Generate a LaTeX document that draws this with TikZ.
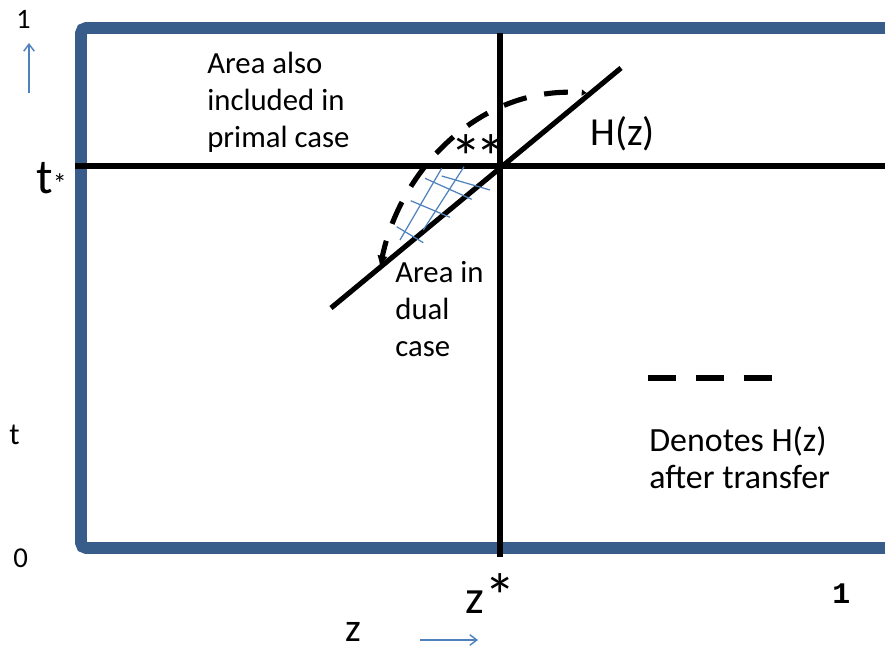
\documentclass[tikz,border=0pt]{standalone}
\usepackage{fontspec}
\setmainfont{Carlito}
\newfontfamily\monofont{Liberation Mono}
\usetikzlibrary{positioning, arrows.meta}

\definecolor{framecol}{RGB}{56,93,138}
\definecolor{hatchcol}{RGB}{79,129,189}

\begin{document}
\begin{tikzpicture}[
    x=0.02cm, y=-0.02cm,
    >=Stealth,
    frame/.style={draw=framecol, line width=6.8pt, rounded corners=3pt},
    axis/.style={draw, line width=2.9pt},
    hz/.style={draw, line width=2.9pt},
    dashcurve/.style={draw, line width=2.9pt, dash pattern=on 13.6pt off 10.2pt, dash phase=4pt},
    legdash/.style={draw, line width=3.4pt, dash pattern=on 15.9pt off 11.3pt},
    hatch/.style={draw=hatchcol, line width=0.7pt},
    bluearrow/.style={draw=hatchcol, line width=0.8pt, -{Straight Barb[length=4pt,width=6pt]}},
    txt/.style={inner sep=0pt, anchor=base west, align=left, font=\fontsize{17.5}{21.3}\selectfont},
]
\useasboundingbox (0,0) rectangle (885,651);

% frame, open on the right
\coordinate (ftr) at (885,28);
\coordinate (ftl) at (81,28);
\coordinate (fbl) at (81,548);
\coordinate (fbr) at (885,548);
\draw[frame] (ftr) -- (ftl) -- (fbl) -- (fbr);

% t* and z* lines
\coordinate (tleft) at (75,166);
\coordinate (tright) at (885,166);
\coordinate (ztop) at (500,33);
\coordinate (zbot) at (500,557);
\draw[axis] (tleft) -- (tright);
\draw[axis] (ztop) -- (zbot);

% H(z)
\coordinate (hlow) at (331,308);
\coordinate (hhigh) at (621,68);
\draw[hz] (hlow) -- (hhigh);

% H(z) after transfer
\coordinate (clow) at (380,268);
\coordinate (chigh) at (587,93);
\draw[dashcurve, {Latex[length=7pt,width=6pt]}-{Latex[length=3pt,width=4pt]}]
    (clow) .. controls (400,170) and (480,85) .. (chigh);

% dual area
\draw[hatch] (441.7,168.3) -- (400,240);
\draw[hatch] (464,166.7) -- (423.3,230);
\draw[hatch] (441.7,176) -- (490,190);
\draw[hatch] (425,178.3) -- (471.7,199.3);
\draw[hatch] (410.7,200.7) -- (450,217.3);
\draw[hatch] (396.7,226.7) -- (423.3,242.7);

% legend
\coordinate (lgleft) at (648,378);
\coordinate (lgright) at (772,378);
\draw[legdash] (lgleft) -- (lgright);

% axis arrows
\coordinate (tarrow0) at (29,93);
\coordinate (tarrow1) at (29,43);
\coordinate (zarrow0) at (420,640);
\coordinate (zarrow1) at (478,640);
\draw[bluearrow] (tarrow0) -- (tarrow1);
\draw[bluearrow] (zarrow0) -- (zarrow1);

% labels (base west = baseline of the last line)
\node[txt] (areaprimal) at (207,148) {Area also\\included in\\primal case};
\node[txt] (areadual) at (395,357) {Area in\\dual\\case};
\node[txt, font=\fontsize{19.3}{21}\selectfont] (legendtxt) at (649,488) {Denotes H(z)\\after transfer};
\node[txt, font=\fontsize{22.6}{26}\selectfont] (hlabel) at (590,146) {H(z)};
\node[txt, font=\fontsize{36}{40}\selectfont] (stars) at (450,180) {*\kern-3.6pt*};
\node[txt, font=\fontsize{28}{32}\selectfont] (tstar) at (36,194) {t{\fontsize{15.9}{18}\selectfont *}};
\node[txt, font=\fontsize{27}{30}\selectfont] (zstar) at (465,613) {z\raisebox{-3pt}{\fontsize{36}{40}\selectfont *}};
\node[txt, font=\fontsize{16}{18}\selectfont] (topone) at (16,29) {1};
\node[txt] (tlabel) at (9,444) {t};
\node[txt, font=\fontsize{16.4}{20}\selectfont] (zero) at (13,567) {0};
\node[txt, text depth=0pt, font=\fontsize{22.7}{26}\selectfont] (zlabel) at (345,641) {z};
\node[txt, font=\monofont\bfseries\fontsize{17}{20}\selectfont] (rightone) at (832,603) {1};

\end{tikzpicture}
\end{document}
